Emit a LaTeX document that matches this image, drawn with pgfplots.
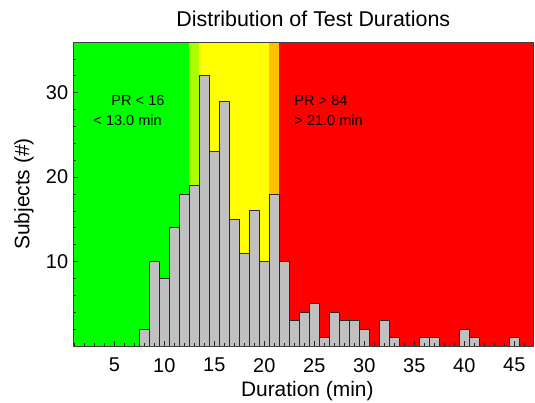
\documentclass[border=0pt]{standalone}
\usepackage{pgfplots}
\pgfplotsset{compat=1.18}
\usepackage{fontspec}
\setmainfont{Liberation Sans}
\definecolor{bggreen}{RGB}{0,255,0}
\definecolor{bglime}{RGB}{170,255,0}
\definecolor{bgyellow}{RGB}{255,255,0}
\definecolor{bgorange}{RGB}{255,192,0}
\definecolor{bgred}{RGB}{255,0,0}
\definecolor{bargray}{RGB}{192,192,192}
\definecolor{edgegray}{RGB}{40,40,40}
\begin{document}
\begin{tikzpicture}
\begin{axis}[
  at={(0,0)}, anchor=south west,
  scale only axis, width=460bp, height=304bp,
  xmin=0.9, xmax=46.9, ymin=0, ymax=36,
  xtick={5,10,...,45}, minor xtick={1,...,46},
  ytick={10,20,30}, minor ytick={2,4,...,34},
  tick align=inside, tick pos=left,
  major tick length=5bp, minor tick length=3bp,
  axis line style={draw=black!75, line width=0.7pt},
  every tick/.style={black!85, line width=0.7pt},
  axis on top,
  ticklabel style={font=\fontsize{20}{24}\selectfont, inner sep=0pt},
  /pgf/number format/assume math mode=true,
  xticklabel style={anchor=north, yshift=-12bp},
  yticklabel style={anchor=east, xshift=-5bp},
]
\addplot[draw=none, fill=bggreen] coordinates {(0.9,36) (12.5,36)} \closedcycle;
\addplot[draw=none, fill=bglime] coordinates {(12.5,36) (13.5,36)} \closedcycle;
\addplot[draw=none, fill=bgyellow] coordinates {(13.5,36) (20.5,36)} \closedcycle;
\addplot[draw=none, fill=bgorange] coordinates {(20.5,36) (21.5,36)} \closedcycle;
\addplot[draw=none, fill=bgred] coordinates {(21.5,36) (46.9,36)} \closedcycle;
\addplot[ybar, bar width=1, fill=bargray, draw=edgegray, line width=0.8pt] coordinates {
 (8,2) (9,10) (10,8) (11,14) (12,18) (13,19) (14,32) (15,23) (16,29) (17,15)
 (18,11) (19,16) (20,10) (21,18) (22,10) (23,3) (24,4) (25,5) (26,1) (27,4)
 (28,3) (29,3) (30,2) (32,3) (33,1) (36,1) (37,1) (40,2) (41,1) (45,1)
};
\node[anchor=base west, inner sep=0pt, font=\fontsize{14.6}{17}\selectfont] at (axis cs:4.7,28.46) {PR < 16};
\node[anchor=base west, inner sep=0pt, font=\fontsize{14.6}{17}\selectfont] at (axis cs:2.9,26.09) {< 13.0 min};
\node[anchor=base west, inner sep=0pt, font=\fontsize{14.6}{17}\selectfont] at (axis cs:23.0,28.46) {PR > 84};
\node[anchor=base west, inner sep=0pt, font=\fontsize{14.6}{17}\selectfont] at (axis cs:23.0,26.09) {> 21.0 min};
\end{axis}
\node[anchor=base, inner sep=0pt, font=\fontsize{21.5}{25}\selectfont] at (240bp,319.3bp) {Distribution of Test Durations};
\node[anchor=base, inner sep=0pt, font=\fontsize{21}{25}\selectfont] at (234bp,-50.7bp) {Duration (min)};
\node[anchor=base, rotate=90, inner sep=0pt, font=\fontsize{21}{25}\selectfont] at (-44bp,152bp) {Subjects (\#)};
\pgfresetboundingbox
\path (-73.3bp,-57bp) rectangle (461.7bp,346bp);
\end{tikzpicture}
\end{document}
